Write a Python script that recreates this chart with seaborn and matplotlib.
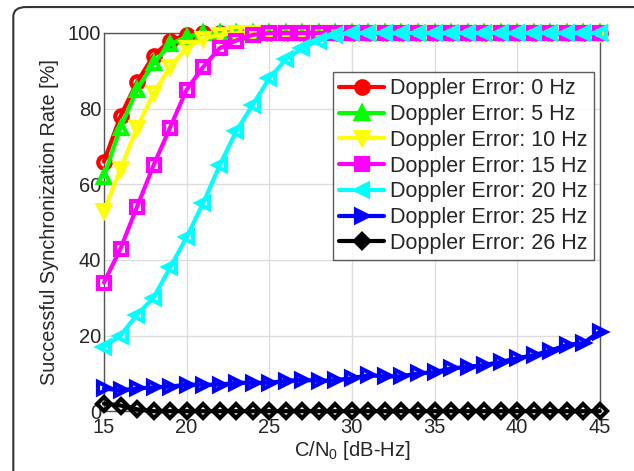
import numpy as np
import pandas as pd
import seaborn as sns
import matplotlib.pyplot as plt
from matplotlib.patches import FancyBboxPatch

# C/N0 values (dB-Hz)
cn0 = list(range(15, 46))

# success rate [%] per Doppler error
rate_0hz = [66, 78, 87, 94, 98, 99.5] + [100] * 25
rate_5hz = [62, 75, 85, 92, 97, 99, 100] + [100] * 24
rate_10hz = [53, 64, 75, 84, 91, 96, 98.5, 99.5] + [100] * 23
rate_15hz = [34, 43, 54, 65, 75, 85, 91, 96, 98, 99.5] + [100] * 21
rate_20hz = [17, 20, 25.5, 30, 38, 46, 55, 65, 74, 81, 88, 93, 96, 98, 99.5] + [100] * 16
rate_25hz = [6, 5.5, 6, 6.3, 6.5, 7, 7, 7, 7.5, 7.5, 7.5, 8, 8.3, 8, 8.2, 8.7,
             9.5, 9.2, 9.2, 10, 10.3, 11.3, 11.7, 12.2, 13, 14, 14.8, 16, 17.5, 18, 21]
rate_26hz = [2, 1.5, 0.5] + [0] * 28

labels = ['Doppler Error: 0 Hz', 'Doppler Error: 5 Hz', 'Doppler Error: 10 Hz',
          'Doppler Error: 15 Hz', 'Doppler Error: 20 Hz', 'Doppler Error: 25 Hz',
          'Doppler Error: 26 Hz']
series = [rate_0hz, rate_5hz, rate_10hz, rate_15hz, rate_20hz, rate_25hz, rate_26hz]
colors = ['#ff0000', '#00ff00', '#ffff00', '#ff00ff', '#00ffff', '#0000ff', '#000000']
markers = ['o', '^', 'v', 's', '<', '>', 'D']

sns.set_style('white')
plt.rcParams['font.family'] = ['Liberation Sans', 'DejaVu Sans']
plt.rcParams['mathtext.fontset'] = 'custom'
plt.rcParams['mathtext.rm'] = 'Liberation Sans'

fig = plt.figure(figsize=(6.34, 4.71), dpi=100)
ax = fig.add_axes([0.164, 0.127, 0.782, 0.803])

# rounded frame around the figure
frame = FancyBboxPatch((0.021, -0.1), 1.2, 1.085, boxstyle='round,pad=0,rounding_size=0.02',
                       transform=fig.transFigure, fill=False, edgecolor='#333333', lw=1.5,
                       clip_on=False)
fig.patches.append(frame)

for vals, lab, c, m in zip(series, labels, colors, markers):
    ms = 7.5 if m == 'D' else 9
    sns.lineplot(x=cn0, y=vals, ax=ax, color=c, marker=m, label=lab, lw=3,
                 markersize=ms, markerfacecolor='none', markeredgecolor=c,
                 markeredgewidth=3, clip_on=False, zorder=3)

ax.set_xlim(15, 45)
ax.set_ylim(0, 100)
ax.set_xticks(range(15, 46, 5))
ax.set_yticks(range(0, 101, 20))
ax.grid(True, color='#dddddd', lw=1)
ax.tick_params(direction='in', labelsize=14.5, length=4)
ax.tick_params(axis='x', pad=5)
ax.tick_params(axis='y', pad=2)
for s in ax.spines.values():
    s.set_color('#555555')
    s.set_linewidth(1)

ax.set_xlabel('C/N$_\\mathrm{0}$ [dB-Hz]', fontsize=14.5, labelpad=1)
ax.set_ylabel('Successful Synchronization Rate [%]', fontsize=14.3, labelpad=6)

leg = ax.legend(loc='upper right', bbox_to_anchor=(0.988, 0.897), fontsize=15.5,
                frameon=True, fancybox=False, edgecolor='#333333', handlelength=2.1,
                handletextpad=0.25, borderpad=0.3, labelspacing=0.22, borderaxespad=0)
leg.get_frame().set_linewidth(1)
leg.set_zorder(5)
for h in leg.legend_handles:
    h.set_markerfacecolor(h.get_color())

fig.savefig('out.png', dpi=100)
